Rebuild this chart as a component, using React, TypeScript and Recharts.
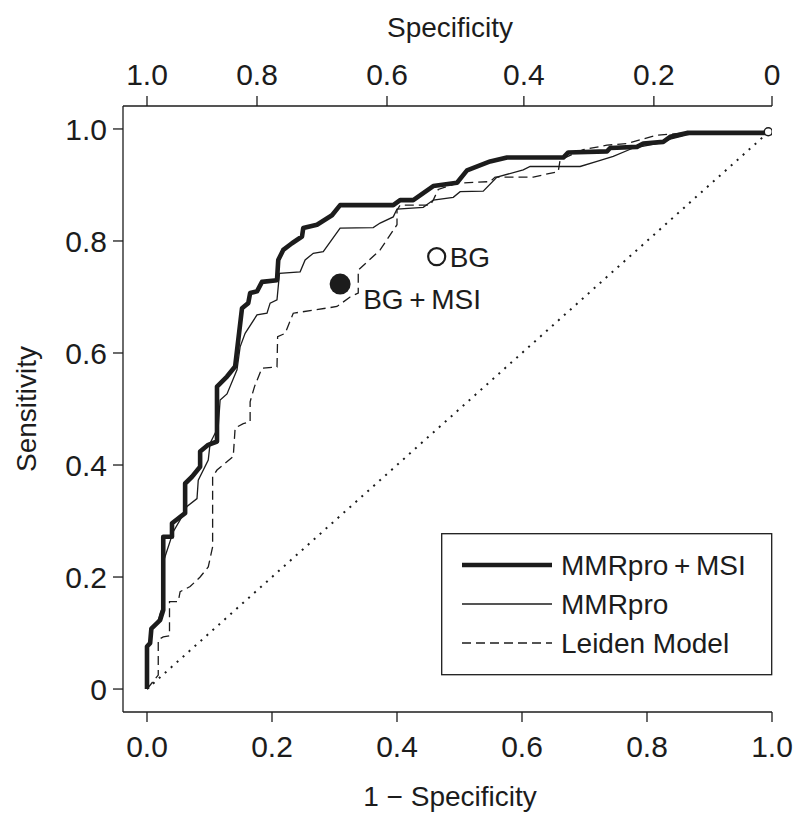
import React from 'react';
import { ComposedChart, Line, Scatter, XAxis, YAxis, Legend } from 'recharts';

const FONT = '"Liberation Sans", Arial, Helvetica, sans-serif';
const INK = '#1c1c1c';

// axis ticks
const xTicks = [0, 0.2, 0.4, 0.6, 0.8, 1.0];
const yTicks = [0, 0.2, 0.4, 0.6, 0.8, 1.0];
// top axis (specificity) ticks, positions as drawn in the original
const specTickPos = [0, 0.176, 0.384, 0.603, 0.811, 1.0];
const specTickLabels = ['1.0', '0.8', '0.6', '0.4', '0.2', '0'];

const seriesNames = ['MMRpro\u2009+\u2009MSI', 'MMRpro', 'Leiden Model'];

// MMRpro + MSI
const mmrproMsiFpr = [0, 0, 0.005, 0.007, 0.021, 0.026, 0.026, 0.040, 0.040, 0.061, 0.061, 0.072, 0.085, 0.085, 0.098, 0.112, 0.112, 0.128, 0.141, 0.146, 0.152, 0.162, 0.165, 0.176, 0.184, 0.208, 0.210, 0.218, 0.232, 0.248, 0.250, 0.272, 0.296, 0.309, 0.394, 0.405, 0.426, 0.458, 0.496, 0.512, 0.549, 0.576, 0.666, 0.674, 0.736, 0.741, 0.784, 0.794, 0.826, 0.837, 0.864, 1.0];
const mmrproMsiTpr = [0, 0.076, 0.082, 0.108, 0.123, 0.141, 0.272, 0.272, 0.296, 0.314, 0.367, 0.379, 0.397, 0.424, 0.436, 0.442, 0.540, 0.558, 0.576, 0.623, 0.680, 0.689, 0.707, 0.710, 0.727, 0.730, 0.766, 0.784, 0.796, 0.808, 0.823, 0.829, 0.846, 0.864, 0.864, 0.873, 0.873, 0.898, 0.904, 0.926, 0.942, 0.949, 0.949, 0.958, 0.960, 0.966, 0.968, 0.974, 0.977, 0.986, 0.993, 0.993];

// MMRpro
const mmrproFpr = [0, 0, 0.005, 0.007, 0.018, 0.021, 0.026, 0.027, 0.042, 0.053, 0.064, 0.080, 0.082, 0.098, 0.101, 0.114, 0.117, 0.128, 0.144, 0.149, 0.157, 0.176, 0.192, 0.197, 0.208, 0.212, 0.245, 0.253, 0.266, 0.282, 0.309, 0.362, 0.373, 0.394, 0.400, 0.442, 0.458, 0.490, 0.501, 0.538, 0.560, 0.602, 0.613, 0.693, 0.720, 0.746, 0.778, 0.826, 0.837, 0.874, 1.0];
const mmrproTpr = [0, 0.075, 0.082, 0.108, 0.123, 0.135, 0.150, 0.230, 0.281, 0.302, 0.326, 0.340, 0.373, 0.409, 0.439, 0.468, 0.516, 0.527, 0.570, 0.611, 0.635, 0.668, 0.671, 0.689, 0.695, 0.742, 0.745, 0.766, 0.778, 0.781, 0.823, 0.824, 0.832, 0.843, 0.857, 0.860, 0.873, 0.878, 0.888, 0.889, 0.914, 0.927, 0.933, 0.933, 0.942, 0.951, 0.966, 0.976, 0.982, 0.992, 0.992];

// Leiden Model
const leidenFpr = [0, 0.018, 0.018, 0.026, 0.036, 0.036, 0.050, 0.053, 0.069, 0.085, 0.098, 0.105, 0.105, 0.112, 0.138, 0.141, 0.154, 0.165, 0.165, 0.172, 0.184, 0.208, 0.209, 0.221, 0.234, 0.304, 0.325, 0.338, 0.338, 0.373, 0.400, 0.400, 0.405, 0.453, 0.458, 0.466, 0.496, 0.549, 0.557, 0.618, 0.658, 0.661, 0.698, 0.736, 0.768, 0.816, 0.853, 1.0];
const leidenTpr = [0, 0.025, 0.088, 0.093, 0.095, 0.156, 0.156, 0.174, 0.183, 0.200, 0.218, 0.254, 0.379, 0.391, 0.415, 0.466, 0.474, 0.477, 0.513, 0.540, 0.573, 0.575, 0.629, 0.635, 0.671, 0.683, 0.700, 0.707, 0.748, 0.784, 0.829, 0.855, 0.864, 0.864, 0.873, 0.892, 0.903, 0.906, 0.914, 0.914, 0.924, 0.945, 0.963, 0.971, 0.974, 0.989, 0.992, 0.993];

// reference diagonal
const chanceFpr = [0, 1];
const chanceTpr = [0, 1];

// single-point classifiers
const pointLabels = ['BG', 'BG\u2009+\u2009MSI'];
const pointFpr = [0.4635, 0.309];
const pointTpr = [0.772, 0.723];

// end marker at top right
const endFpr = [0.994];
const endTpr = [0.995];

const toPoints = (fpr: number[], tpr: number[]) => fpr.map((x, i) => ({ x, y: tpr[i] }));

const lineStyles: Record<string, { strokeWidth: number; dash?: string }> = {
  [seriesNames[0]]: { strokeWidth: 4.6 },
  [seriesNames[1]]: { strokeWidth: 1.3 },
  [seriesNames[2]]: { strokeWidth: 1.3, dash: '9 5' },
};

const textStyle = { fontFamily: FONT, fill: INK };

const renderLegend = (props: any) => {
  const items = (props.payload || [])
    .filter((p: any) => seriesNames.includes(p.value))
    .sort((a: any, b: any) => seriesNames.indexOf(a.value) - seriesNames.indexOf(b.value));
  return (
    <svg width={332} height={143} style={{ display: 'block' }}>
      <rect x={0.7} y={0.7} width={330} height={141} fill="#fff" stroke={INK} strokeWidth={1.3} />
      {items.map((p: any, i: number) => {
        const st = lineStyles[p.value];
        const cy = 32 + i * 39;
        return (
          <g key={p.value}>
            <line x1={21} x2={111} y1={cy} y2={cy} stroke={INK} strokeWidth={st.strokeWidth} strokeDasharray={st.dash} />
            <text x={120} y={cy + 10} fontSize={28} {...textStyle}>{p.value}</text>
          </g>
        );
      })}
    </svg>
  );
};

const bottomTitle = () => (
  <text x={450} y={806} textAnchor="middle" fontSize={28} {...textStyle}>1 − Specificity</text>
);
const topTitle = () => (
  <text x={450} y={37} textAnchor="middle" fontSize={28} {...textStyle}>Specificity</text>
);
const leftTitle = () => (
  <text x={36} y={409} textAnchor="middle" fontSize={28} transform="rotate(-90 36 409)" {...textStyle}>Sensitivity</text>
);

const openDot = (props: any) => (
  <g>
    <circle cx={props.cx} cy={props.cy} r={8.5} fill="#fff" stroke={INK} strokeWidth={2.2} />
    <text x={props.cx + 13} y={props.cy + 10} fontSize={28} {...textStyle}>{pointLabels[0]}</text>
  </g>
);
const filledDot = (props: any) => (
  <g>
    <circle cx={props.cx} cy={props.cy} r={10.5} fill={INK} />
    <text x={props.cx + 23} y={props.cy + 25} fontSize={28} {...textStyle}>{pointLabels[1]}</text>
  </g>
);
const endDot = (props: any) => (
  <circle cx={props.cx} cy={props.cy} r={4} fill="#fff" stroke={INK} strokeWidth={1.5} />
);

const axisLine = { stroke: INK, strokeWidth: 1.3 };
const tickFont = { fill: INK, fontSize: 30, fontFamily: FONT };

export default function App() {
  return (
    <div style={{ position: 'absolute', left: 0, top: 0, background: '#fff' }}>
      <ComposedChart width={800} height={820} margin={{ top: 0, right: 28, bottom: 0, left: 0 }}>
        <XAxis
          xAxisId="b"
          dataKey="x"
          type="number"
          domain={[-0.0384, 1]}
          allowDataOverflow
          ticks={xTicks}
          interval={0}
          tickFormatter={(v: number) => v.toFixed(1)}
          height={108}
          tickSize={10}
          tickMargin={14}
          axisLine={axisLine}
          tickLine={axisLine}
          tick={tickFont}
          label={bottomTitle}
        />
        <XAxis
          xAxisId="t"
          orientation="top"
          dataKey="x"
          type="number"
          domain={[-0.0384, 1]}
          allowDataOverflow
          ticks={specTickPos}
          interval={0}
          tickFormatter={(_v: number, i: number) => specTickLabels[i]}
          height={106}
          tickSize={10}
          tickMargin={11}
          axisLine={axisLine}
          tickLine={axisLine}
          tick={tickFont}
          label={topTitle}
        />
        <YAxis
          yAxisId="l"
          dataKey="y"
          type="number"
          domain={[-0.041, 1.041]}
          allowDataOverflow
          ticks={yTicks}
          interval={0}
          tickFormatter={(v: number) => (v === 0 ? '0' : v.toFixed(1))}
          width={123}
          tickSize={10}
          tickMargin={6}
          axisLine={axisLine}
          tickLine={axisLine}
          tick={tickFont}
          label={leftTitle}
        />
        <Line
          xAxisId="b" yAxisId="l"
          data={toPoints(chanceFpr, chanceTpr)}
          dataKey="y" type="linear" stroke={INK} strokeWidth={2}
          strokeDasharray="2 6" dot={false} legendType="none" name="chance"
          isAnimationActive={false}
        />
        <Line
          xAxisId="b" yAxisId="l"
          data={toPoints(leidenFpr, leidenTpr)}
          dataKey="y" type="linear" stroke={INK} strokeWidth={1.3}
          strokeDasharray="9 5" dot={false} name={seriesNames[2]}
          isAnimationActive={false}
        />
        <Line
          xAxisId="b" yAxisId="l"
          data={toPoints(mmrproFpr, mmrproTpr)}
          dataKey="y" type="linear" stroke={INK} strokeWidth={1.3}
          dot={false} name={seriesNames[1]}
          isAnimationActive={false}
        />
        <Line
          xAxisId="b" yAxisId="l"
          data={toPoints(mmrproMsiFpr, mmrproMsiTpr)}
          dataKey="y" type="linear" stroke={INK} strokeWidth={4.6}
          strokeLinejoin="round" dot={false} name={seriesNames[0]}
          isAnimationActive={false}
        />
        <Scatter xAxisId="b" yAxisId="l" data={toPoints([pointFpr[0]], [pointTpr[0]])} dataKey="y" shape={openDot} legendType="none" isAnimationActive={false} />
        <Scatter xAxisId="b" yAxisId="l" data={toPoints([pointFpr[1]], [pointTpr[1]])} dataKey="y" shape={filledDot} legendType="none" isAnimationActive={false} />
        <Scatter xAxisId="b" yAxisId="l" data={toPoints(endFpr, endTpr)} dataKey="y" shape={endDot} legendType="none" isAnimationActive={false} />
        <Legend
          layout="horizontal"
          verticalAlign="middle"
          align="center"
          wrapperStyle={{ left: 441, top: 533, width: 332, height: 143 }}
          content={renderLegend}
        />
      </ComposedChart>
    </div>
  );
}
